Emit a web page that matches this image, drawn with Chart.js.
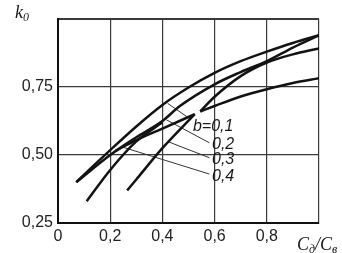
<!DOCTYPE html>
<html>
<head>
<meta charset="utf-8">
<script src="https://cdn.jsdelivr.net/npm/chart.js@4/dist/chart.umd.min.js"></script>
<style>
  html, body { margin: 0; padding: 0; background: #fff; }
  #wrap { width: 342px; height: 253px; }
</style>
</head>
<body>
<div id="wrap"><canvas id="k0Chart"></canvas></div>
<script>
/* ------- 刻度 ------- */
const xTicks = [0, 0.2, 0.4, 0.6, 0.8, 1.0];
const xTickLabels = ['0', '0,2', '0,4', '0,6', '0,8', ''];
const yTicks = [0.25, 0.5, 0.75, 1.0];
const yTickLabels = ['0,25', '0,50', '0,75', ''];

/* ------- 曲线 (x, k0) ------- */
const curveTop = [[0.07, 0.40], [0.1, 0.428], [0.2, 0.518], [0.3, 0.605], [0.4, 0.684], [0.5, 0.748], [0.6, 0.802], [0.7, 0.845], [0.8, 0.88], [0.9, 0.912], [1.0, 0.94]];
const curveSecond = [[0.07, 0.40], [0.2, 0.50], [0.3, 0.565], [0.4, 0.625], [0.467, 0.68], [0.6, 0.76], [0.7, 0.805], [0.8, 0.845], [0.9, 0.895], [1.0, 0.94]];
const curveCuspUp = [[0.545, 0.66], [0.6, 0.714], [0.7, 0.79], [0.8, 0.84], [0.9, 0.87], [1.0, 0.892]];
const curveCuspLow = [[0.545, 0.66], [0.6, 0.68], [0.7, 0.715], [0.8, 0.742], [0.9, 0.765], [1.0, 0.782]];
const curveSteep1 = [[0.11, 0.33], [0.2, 0.445], [0.3, 0.55], [0.4, 0.62]];
const curveSteep2 = [[0.265, 0.37], [0.3, 0.41], [0.4, 0.525], [0.524, 0.65]];
const curveBack = [[0.22, 0.515], [0.3, 0.555], [0.4, 0.597], [0.524, 0.65]];

/* ------- 标注 b ------- */
const bLabels = ['b=0,1', '0,2', '0,3', '0,4'];
const bLabelX = [0.517, 0.59, 0.59, 0.59];
const bLabelY = [0.603, 0.537, 0.482, 0.419];
const leaderStart = [[0.42, 0.69], [0.416, 0.629], [0.422, 0.549], [0.244, 0.53]];
const leaderEnd = [[0.51, 0.63], [0.58, 0.545], [0.58, 0.49], [0.58, 0.43]];

const toPts = arr => arr.map(p => ({ x: p[0], y: p[1] }));

function curve(arr) {
    return {
        data: toPts(arr),
        borderColor: '#131313',
        borderWidth: 2.5,
        pointRadius: 0,
        cubicInterpolationMode: 'monotone',
        fill: false,
    };
}

const datasets = [curveTop, curveSecond, curveCuspUp, curveCuspLow, curveSteep1, curveSteep2, curveBack].map(curve);
leaderStart.forEach((s, i) => {
    datasets.push({
        data: toPts([s, leaderEnd[i]]),
        borderColor: '#333',
        borderWidth: 1,
        pointRadius: 0,
        fill: false,
    });
});

/* ------- 文字插件 ------- */
const textPlugin = {
    id: 'texts',
    afterDraw(chart) {
        const ctx = chart.ctx;
        const xs = chart.scales.x, ys = chart.scales.y;
        ctx.save();
        ctx.fillStyle = '#1a1a1a';
        ctx.textBaseline = 'middle';
        ctx.textAlign = 'left';
        ctx.font = 'italic 16px "Liberation Sans"';
        bLabels.forEach((t, i) => {
            ctx.fillText(t, xs.getPixelForValue(bLabelX[i]), ys.getPixelForValue(bLabelY[i]));
        });

        // 轴名
        ctx.textBaseline = 'alphabetic';
        ctx.font = 'italic 18px "Liberation Serif"';
        ctx.fillText('k', 15, 18);
        ctx.font = 'italic 12px "Liberation Serif"';
        ctx.fillText('0', 23, 21);

        let x = 297;
        const base = 250;
        ctx.font = 'italic 18px "Liberation Serif"';
        ctx.fillText('C', x, base); x += ctx.measureText('C').width;
        ctx.font = 'italic 12px "Liberation Serif"';
        ctx.fillText('д', x, base + 3); x += ctx.measureText('д').width;
        ctx.font = 'italic 18px "Liberation Serif"';
        ctx.fillText('/', x, base); x += ctx.measureText('/').width;
        ctx.fillText('C', x, base); x += ctx.measureText('C').width;
        ctx.font = 'italic 12px "Liberation Serif"';
        ctx.fillText('в', x, base + 3);
        ctx.restore();
    }
};

new Chart(document.getElementById('k0Chart'), {
    type: 'line',
    data: { datasets },
    options: {
        responsive: true,
        maintainAspectRatio: false,
        animation: false,
        layout: { padding: { top: 19, right: 23, left: 0, bottom: 0 } },
        plugins: { legend: { display: false }, tooltip: { enabled: false } },
        scales: {
            x: {
                type: 'linear',
                min: 0,
                max: 1.0,
                afterBuildTicks: s => { s.ticks = xTicks.map(v => ({ value: v })); },
                afterFit: s => { s.height = 30; },
                ticks: {
                    padding: 4,
                    color: '#222',
                    font: { family: 'Liberation Sans', size: 16 },
                    maxRotation: 0,
                    callback: (v, i) => xTickLabels[i],
                },
                grid: { color: '#3a3a3a', lineWidth: 1.2, drawTicks: false },
                border: { display: true, color: '#111', width: 2 },
            },
            y: {
                type: 'linear',
                min: 0.25,
                max: 1.0,
                afterBuildTicks: s => { s.ticks = yTicks.map(v => ({ value: v })); },
                afterFit: s => { s.width = 58; },
                ticks: {
                    padding: 5,
                    color: '#222',
                    font: { family: 'Liberation Sans', size: 16 },
                    callback: (v, i) => yTickLabels[i],
                },
                grid: {
                    color: '#3a3a3a',
                    lineWidth: c => (c.tick && c.tick.value === 1.0 ? 2 : 1.2),
                    drawTicks: false,
                },
                border: { display: true, color: '#111', width: 2 },
            }
        }
    },
    plugins: [textPlugin]
});
</script>
</body>
</html>
